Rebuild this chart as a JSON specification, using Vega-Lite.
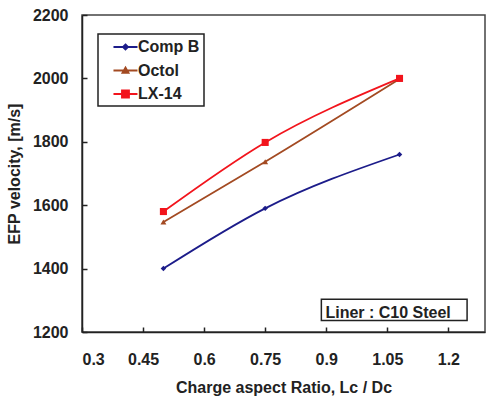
{
  "$schema": "https://vega.github.io/schema/vega-lite/v6.json",
  "width": 403,
  "height": 317,
  "autosize": {"type": "none"},
  "padding": {"left": 82, "top": 15, "right": 2, "bottom": 66},
  "background": "white",
  "config": {
    "font": "Liberation Sans",
    "view": {"stroke": "#444", "strokeWidth": 1.5}
  },
  "datasets": {
    "main": [
      {"series": "Comp B", "ratio": 0.5, "velocity": 1400},
      {"series": "Comp B", "ratio": 0.75, "velocity": 1590},
      {"series": "Comp B", "ratio": 1.08, "velocity": 1760},
      {"series": "Octol", "ratio": 0.5, "velocity": 1547},
      {"series": "Octol", "ratio": 0.75, "velocity": 1737},
      {"series": "Octol", "ratio": 1.08, "velocity": 1998},
      {"series": "LX-14", "ratio": 0.5, "velocity": 1580},
      {"series": "LX-14", "ratio": 0.75, "velocity": 1798},
      {"series": "LX-14", "ratio": 1.08, "velocity": 2000}
    ],
    "note": [
      {"label": "Liner : C10 Steel", "x1": 0.888, "x2": 1.246, "y1": 1236, "y2": 1303, "tx": 0.898, "ty": 1245}
    ]
  },
  "layer": [
    {
      "data": {"name": "main"},
      "mark": {"type": "line", "interpolate": "monotone", "strokeWidth": 1.8},
      "encoding": {
        "x": {
          "field": "ratio", "type": "quantitative",
          "scale": {"domain": [0.3, 1.29], "nice": false, "zero": false},
          "axis": {
            "values": [0.3, 0.45, 0.6, 0.75, 0.9, 1.05, 1.2],
            "format": ".2~f",
            "title": "Charge aspect Ratio, Lc / Dc",
            "titleFont": "Liberation Sans", "titleFontSize": 16, "titleFontWeight": "bold", "titleColor": "#222",
            "titlePadding": 12,
            "labelFont": "Liberation Sans", "labelFontSize": 16, "labelFontWeight": "bold", "labelColor": "#222",
            "labelPadding": 24,
            "grid": false, "domainColor": "#222", "domainWidth": 1.5,
            "tickColor": "#222", "tickSize": -5, "tickWidth": 1.5
          }
        },
        "y": {
          "field": "velocity", "type": "quantitative",
          "scale": {"domain": [1200, 2200], "nice": false, "zero": false},
          "axis": {
            "values": [1200, 1400, 1600, 1800, 2000, 2200],
            "format": "d",
            "title": "EFP velocity, [m/s]",
            "titleFont": "Liberation Sans", "titleFontSize": 16, "titleFontWeight": "bold", "titleColor": "#222",
            "titlePadding": 10,
            "labelFont": "Liberation Sans", "labelFontSize": 16, "labelFontWeight": "bold", "labelColor": "#222",
            "labelPadding": 19,
            "grid": false, "domainColor": "#222", "domainWidth": 1.5,
            "tickColor": "#222", "tickSize": -5, "tickWidth": 1.5
          }
        },
        "color": {
          "field": "series", "type": "nominal",
          "scale": {"domain": ["Comp B", "Octol", "LX-14"], "range": ["#1c1c8a", "#a34a22", "#f2141c"]},
          "legend": {
            "orient": "none", "legendX": 16, "legendY": 19,
            "title": null,
            "padding": 4,
            "strokeColor": "#222",
            "fillColor": "white",
            "symbolSize": 256,
            "symbolStrokeWidth": 1.8,
            "rowPadding": 6.5,
            "labelFont": "Liberation Sans", "labelFontSize": 16, "labelFontWeight": "bold", "labelColor": "#222",
            "labelOffset": 18,
            "labelExpr": "datum.label + '   '",
            "encode": {
              "legend": {"update": {"strokeWidth": {"value": 1.5}}},
              "symbols": {
                "update": {
                  "shape": {"signal": "datum.value === 'Comp B' ? 'M0.31,0H3.31M1.81,-0.32L2.13,0L1.81,0.32L1.49,0Z' : datum.value === 'Octol' ? 'M0.31,0H3.31M1.81,-0.38L2.19,0.28L1.43,0.28Z' : 'M0.31,0H3.31M1.37,-0.44H2.25V0.44H1.37Z'"},
                  "fill": {"signal": "scale('color', datum.value)"},
                  "stroke": {"signal": "scale('color', datum.value)"},
                  "strokeWidth": {"value": 1.8},
                  "opacity": {"value": 1}
                }
              }
            }
          }
        },
        "detail": {"field": "series"}
      }
    },
    {
      "data": {"name": "main"},
      "transform": [{"filter": "datum.series === 'Comp B'"}],
      "mark": {"type": "point", "filled": true, "opacity": 1, "shape": "diamond", "size": 30},
      "encoding": {
        "x": {"field": "ratio", "type": "quantitative"},
        "y": {"field": "velocity", "type": "quantitative"},
        "color": {"field": "series", "type": "nominal"}
      }
    },
    {
      "data": {"name": "main"},
      "transform": [{"filter": "datum.series === 'Octol'"}],
      "mark": {"type": "point", "filled": true, "opacity": 1, "shape": "triangle-up", "size": 35},
      "encoding": {
        "x": {"field": "ratio", "type": "quantitative"},
        "y": {"field": "velocity", "type": "quantitative"},
        "color": {"field": "series", "type": "nominal"}
      }
    },
    {
      "data": {"name": "main"},
      "transform": [{"filter": "datum.series === 'LX-14'"}],
      "mark": {"type": "point", "filled": true, "opacity": 1, "shape": "square", "size": 50},
      "encoding": {
        "x": {"field": "ratio", "type": "quantitative"},
        "y": {"field": "velocity", "type": "quantitative"},
        "color": {"field": "series", "type": "nominal"}
      }
    },
    {
      "data": {"name": "note"},
      "mark": {"type": "rect", "fill": "white", "stroke": "#222", "strokeWidth": 1.5},
      "encoding": {
        "x": {"field": "x1", "type": "quantitative"},
        "x2": {"field": "x2"},
        "y": {"field": "y1", "type": "quantitative"},
        "y2": {"field": "y2"}
      }
    },
    {
      "data": {"name": "note"},
      "mark": {"type": "text", "align": "left", "baseline": "alphabetic", "font": "Liberation Sans", "fontSize": 16, "fontWeight": "bold", "color": "#222"},
      "encoding": {
        "x": {"field": "tx", "type": "quantitative"},
        "y": {"field": "ty", "type": "quantitative"},
        "text": {"field": "label"}
      }
    }
  ]
}
